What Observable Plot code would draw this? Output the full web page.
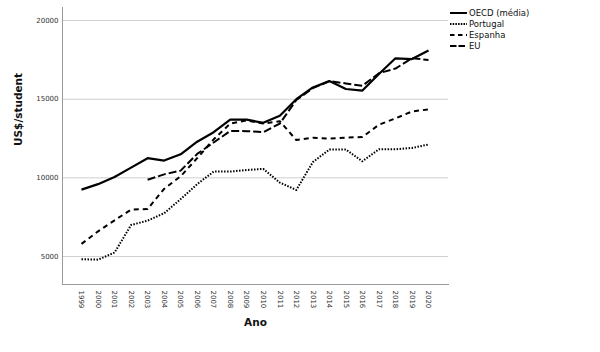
<!DOCTYPE html>
<html>
<head>
<meta charset="utf-8">
<script src="https://cdn.jsdelivr.net/npm/d3@7"></script>
<script src="https://cdn.jsdelivr.net/npm/@observablehq/plot@0.6"></script>
<style>
  html, body { margin: 0; padding: 0; background: #fff; }
  #wrap { position: relative; width: 600px; height: 352px; font-family: "DejaVu Sans", sans-serif; }
  #legend { position: absolute; left: 450px; top: 7px; font-size: 8.5px; color: #111; }
  #legend .row { display: flex; align-items: center; height: 11px; }
  #legend svg { width: 18px; height: 10px; margin-right: 1px; }
</style>
</head>
<body>
<div id="wrap"><div id="legend"></div></div>
<script>
const years = [1999,2000,2001,2002,2003,2004,2005,2006,2007,2008,2009,2010,2011,2012,2013,2014,2015,2016,2017,2018,2019,2020];
const seriesNames = ["OECD (média)", "Portugal", "Espanha", "EU"];
const oecd     = [9250, 9600, 10050, 10650, 11250, 11100, 11500, 12300, 12900, 13700, 13700, 13500, 13950, 15000, 15750, 16150, 15650, 15550, 16600, 17600, 17550, 18100];
const portugal = [4830, 4800, 5250, 7000, 7280, 7750, 8650, 9600, 10400, 10400, 10500, 10570, 9700, 9230, 11000, 11800, 11800, 11050, 11820, 11820, 11900, 12120];
const espanha  = [5800, 6600, 7300, 7980, 8020, 9300, 10100, 11250, 12450, 13450, 13650, 13450, 13600, 12400, 12550, 12500, 12550, 12600, 13380, 13780, 14220, 14350];
const eu       = [null, null, null, null, 9880, 10220, 10460, 11520, 12250, 12980, 12970, 12900, 13450, 14950, 15700, 16150, 16000, 15850, 16650, 16950, 17600, 17500];
const yTicks = [5000, 10000, 15000, 20000];
const xTitle = "Ano";
const yTitle = "US$/student";

const seriesValues = [oecd, portugal, espanha, eu];
const dashes = ["none", "1.5,1.5", "5,4", "8,3"];
const widths = [2.2, 2, 2, 2];

const rows = [];
seriesNames.forEach((name, i) => {
  years.forEach((yr, j) => {
    const v = seriesValues[i][j];
    if (v != null) rows.push({series: name, year: yr, value: v});
  });
});

const lineMarks = seriesNames.map((name, i) =>
  Plot.line(rows.filter(d => d.series === name), {
    x: "year", y: "value", stroke: "#000", strokeWidth: widths[i],
    strokeDasharray: dashes[i], strokeLinejoin: "round", strokeLinecap: "butt"
  })
);

const chart = Plot.plot({
  width: 600,
  height: 352,
  marginLeft: 62,
  marginRight: 152,
  marginTop: 7,
  marginBottom: 68,
  style: { fontFamily: "DejaVu Sans, sans-serif", background: "transparent", overflow: "visible" },
  x: { type: "linear", domain: [1997.85, 2021.21] },
  y: { domain: [3220, 20830] },
  marks: [
    Plot.gridY(yTicks, { stroke: "#cfcfcf", strokeOpacity: 1, strokeWidth: 1 }),
    Plot.frame({ anchor: "left", stroke: "#9a9a9a" }),
    Plot.frame({ anchor: "bottom", stroke: "#9a9a9a" }),
    Plot.axisY(yTicks, { tickSize: 0, tickPadding: 4, fontSize: 7, fill: "#333", label: null, tickFormat: d => String(d) }),
    Plot.axisX(years, { tickSize: 0, tickPadding: 6, tickRotate: 90, fontSize: 7, fill: "#333", label: null, tickFormat: d => String(d) }),
    ...lineMarks,
    Plot.text([xTitle], { frameAnchor: "bottom", dy: 41, fontSize: 10.5, fontWeight: "bold", fill: "#111" }),
    Plot.text([yTitle], { frameAnchor: "left", dx: -44, rotate: -90, fontSize: 10.5, fontWeight: "bold", fill: "#111" })
  ]
});

const wrap = document.getElementById("wrap");
wrap.insertBefore(chart, wrap.firstChild);

const legend = document.getElementById("legend");
seriesNames.forEach((name, i) => {
  const row = document.createElement("div");
  row.className = "row";
  const da = dashes[i] === "none" ? "" : (i === 1 ? "1.5,1.2" : i === 2 ? "4.5,3.5" : "6.5,2");
  row.innerHTML = `<svg viewBox="0 0 18 10"><line x1="0" x2="17" y1="5" y2="5" stroke="#000" stroke-width="2" ${da ? `stroke-dasharray="${da}"` : ""}/></svg><span>${name}</span>`;
  legend.appendChild(row);
});
</script>
</body>
</html>
